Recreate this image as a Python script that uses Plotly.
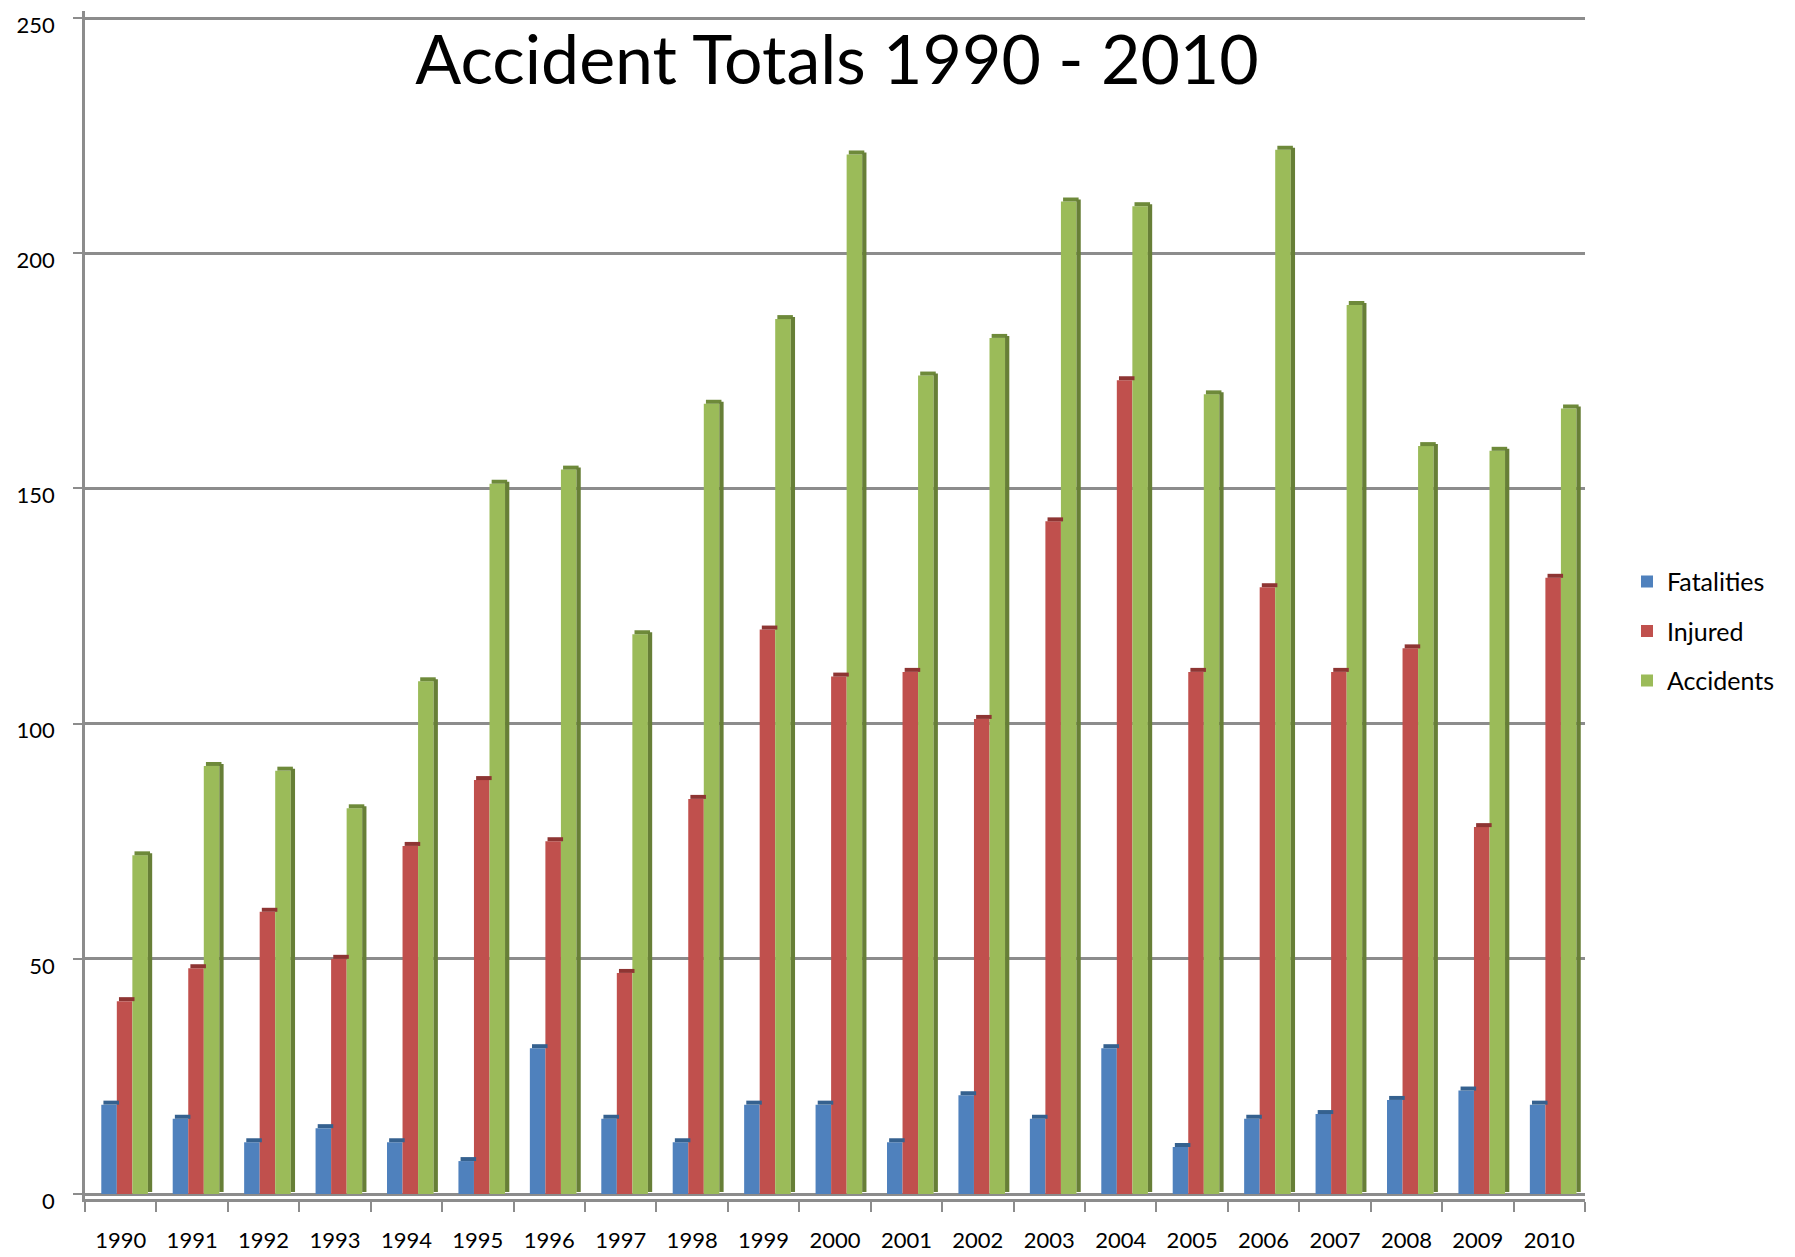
import plotly.graph_objects as go

years = ["1990", "1991", "1992", "1993", "1994", "1995", "1996", "1997", "1998", "1999", "2000",
         "2001", "2002", "2003", "2004", "2005", "2006", "2007", "2008", "2009", "2010"]
fatalities = [19, 16, 11, 14, 11, 7, 31, 16, 11, 19, 19, 11, 21, 16, 31, 10, 16, 17, 20, 22, 19]
injured = [41, 48, 60, 50, 74, 88, 75, 47, 84, 120, 110, 111, 101, 143, 173, 111, 129, 111, 116, 78, 131]
accidents = [72, 91, 90, 82, 109, 151, 154, 119, 168, 186, 221, 174, 182, 211, 210, 170, 222, 189, 159, 158, 167]

series = [
    ("Fatalities", fatalities, "#4F81BD", "#35618F", -0.272),
    ("Injured", injured, "#C0504D", "#8E3533", -0.0545),
    ("Accidents", accidents, "#9BBB59", "#6E8A3A", 0.163),
]
W = 0.2175      # bar width (category units)
CAP = 0.85      # pseudo-3D depth in value units
SIDE_W = 0.06   # pseudo-3D side width

fig = go.Figure()
for i, (name, vals, col, dark, off) in enumerate(series):
    fig.add_trace(go.Bar(
        x=years, y=vals, name=name, marker=dict(color=col, line=dict(width=0)),
        offset=off, width=W, legendgroup=name,
    ))
for i, (name, vals, col, dark, off) in enumerate(series):
    # top cap
    fig.add_trace(go.Bar(
        x=years, y=[CAP] * len(vals), base=vals, marker=dict(color=dark, line=dict(width=0)),
        offset=off + 0.03, width=W, showlegend=False, hoverinfo="skip",
    ))
# visible side face of the front-most series
fig.add_trace(go.Bar(
    x=years, y=accidents, base=[CAP * 0.5] * len(accidents),
    marker=dict(color="#677F37", line=dict(width=0)),
    offset=0.163 + W, width=SIDE_W, showlegend=False, hoverinfo="skip",
))

axis_gray = "#8C8C8C"
fig.update_layout(
    width=1795, height=1257,
    barmode="overlay",
    paper_bgcolor="white", plot_bgcolor="white",
    margin=dict(l=77, r=218, t=3, b=66, autoexpand=False),
    font=dict(family="Lato, Calibri, sans-serif", color="black", size=22),
    title=dict(
        text="Accident Totals 1990 - 2010",
        font=dict(size=68, family="Lato, Calibri, sans-serif", color="black"),
        x=829 / 1795, xanchor="center", xref="container",
        y=1 - 52 / 1257, yanchor="middle", yref="container",
    ),
    legend=dict(
        x=1.028, xanchor="left", y=0.478, yanchor="middle",
        font=dict(size=25), tracegroupgap=14, bgcolor="rgba(0,0,0,0)",
    ),
    xaxis=dict(
        type="category", range=[-0.5, 20.5], showgrid=False,
        showline=True, linecolor=axis_gray, linewidth=2.5,
        ticks="outside", tickson="boundaries", ticklen=10, tickwidth=2, tickcolor=axis_gray,
        tickfont=dict(size=22), ticklabelstandoff=20,
    ),
    yaxis=dict(
        range=[-1.06, 251.5], tickvals=[0, 50, 100, 150, 200, 250],
        showgrid=True, gridcolor=axis_gray, gridwidth=2.5,
        zeroline=True, zerolinecolor=axis_gray, zerolinewidth=2.5,
        showline=True, linecolor=axis_gray, linewidth=2.5,
        ticks="outside", ticklen=9, tickwidth=2, tickcolor=axis_gray,
        tickfont=dict(size=22), ticklabelstandoff=14, ticklabelshift=7,
    ),
)

fig.write_html("out.html")
